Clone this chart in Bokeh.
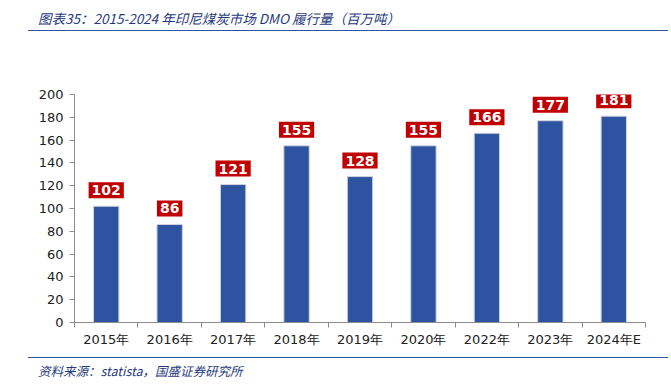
from bokeh.plotting import figure
from bokeh.models import (ColumnDataSource, LinearAxis, FixedTicker, Range1d, Div)
from bokeh.core.properties import value
from bokeh.layouts import column
from bokeh.embed import file_html
from bokeh.resources import INLINE

categories = ["2015年", "2016年", "2017年", "2018年", "2019年", "2020年", "2022年", "2023年", "2024年E"]
values = [102, 86, 121, 155, 128, 155, 166, 177, 181]
y_ticks = [0, 20, 40, 60, 80, 100, 120, 140, 160, 180, 200]

title_text = "图表35：2015-2024 年印尼煤炭市场 DMO 履行量（百万吨）"
source_text = "资料来源：statista，国盛证券研究所"

xs = [i + 0.5 for i in range(len(categories))]
src = ColumnDataSource(dict(x=xs, top=values, label=[str(v) for v in values]))

W = 667
p = figure(width=W, height=326, output_backend="svg", toolbar_location=None,
           x_range=Range1d(0, len(categories)), y_range=Range1d(0, 200),
           min_border_left=74, min_border_right=22, min_border_top=63, min_border_bottom=35,
           margin=(0, 0, 0, 0))
p.outline_line_color = None
p.grid.visible = False
p.background_fill_color = "white"

p.vbar(x="x", top="top", width=0.4, source=src, fill_color="#2E54A1",
       line_color="#D0D4DC", line_width=1)

p.text(x="x", y="top", text="label", source=src, y_offset=-8,
       text_align="center", text_baseline="bottom",
       text_color="white", text_font=value("DejaVu Sans"), text_font_style="bold",
       text_font_size="14px", background_fill_color="#C00000", padding=3)

# y axis
ya = p.yaxis[0]
ya.ticker = FixedTicker(ticks=y_ticks)
ya.axis_line_color = "#8C8C8C"
ya.major_tick_line_color = "#8C8C8C"
ya.major_tick_out = 5
ya.major_tick_in = 0
ya.minor_tick_line_color = None
ya.major_label_text_font = "DejaVu Sans"
ya.major_label_text_font_size = "13px"
ya.major_label_text_color = "#222222"
ya.major_label_standoff = 6

# x axis boundary ticks
xa = p.xaxis[0]
xa.ticker = FixedTicker(ticks=list(range(len(categories) + 1)))
xa.major_label_overrides = {i: "" for i in range(len(categories) + 1)}
xa.major_label_text_font_size = "1px"
xa.major_label_standoff = 0
xa.axis_line_color = "#8C8C8C"
xa.major_tick_line_color = "#8C8C8C"
xa.major_tick_out = 5
xa.major_tick_in = 0
xa.minor_tick_line_color = None

# x axis category labels
xl = LinearAxis(ticker=FixedTicker(ticks=xs),
                major_label_overrides={x: c for x, c in zip(xs, categories)})
xl.axis_line_color = None
xl.major_tick_line_color = None
xl.minor_tick_line_color = None
xl.major_label_text_font = "DejaVu Sans"
xl.major_label_text_font_size = "13px"
xl.major_label_text_color = "#222222"
xl.major_label_standoff = -2
p.add_layout(xl, "below")

title = Div(text=title_text, width=640, height=31, margin=(0, 0, 0, 28),
            styles={"padding-left": "10px",
                    "border-bottom": "1px solid #2E54A1", "box-sizing": "border-box",
                    "font-family": "'Noto Sans CJK SC', sans-serif", "font-style": "italic",
                    "font-size": "13.5px", "color": "#1F3A80", "line-height": "20px",
                    "padding-top": "8px"})
footer = Div(text=source_text, width=640, height=30, margin=(0, 0, 0, 28),
             styles={"padding-left": "10px",
                     "border-top": "1px solid #2E54A1", "box-sizing": "border-box",
                     "font-family": "'Noto Sans CJK SC', sans-serif", "font-style": "italic",
                     "font-size": "12.5px", "color": "#1F3A80", "line-height": "26px"})

layout = column(title, p, footer, margin=(0, 0, 0, 0), spacing=0)
open("out.html", "w").write(file_html(layout, INLINE))
